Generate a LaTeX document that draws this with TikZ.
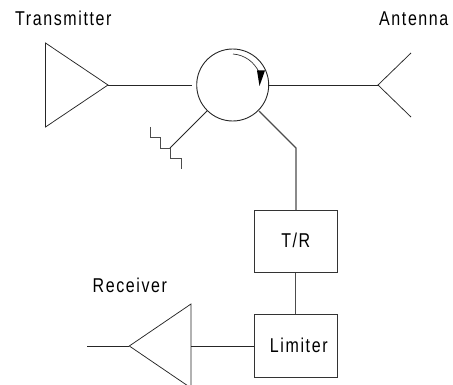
\documentclass[tikz,border=0pt]{standalone}
\usepackage{fontspec}
\setmainfont[FakeStretch=0.8,LetterSpace=8]{Liberation Sans}
\tikzset{
  wire/.style={draw=black!85,line width=0.75pt,line join=miter},
  heavy/.style={draw=black!70,line width=1.1pt},
  blockbox/.style={draw=black!80,line width=1pt,minimum width=83pt,minimum height=62pt,inner sep=0pt,font=\fontsize{20}{22}\selectfont},
  lbl/.style={inner sep=0pt,font=\fontsize{20}{22}\selectfont,anchor=base west},
  circ/.style={circle,draw=black!85,line width=0.9pt,minimum size=72pt,inner sep=0pt}
}
\begin{document}
\begin{tikzpicture}[x=1pt,y=-1pt]
\useasboundingbox (0,0) rectangle (453,385);
\clip (0,0) rectangle (453,385);
% labels
\node[lbl] (ltx) at (15,26) {Transmitter};
\node[lbl] (lant) at (379,26) {Antenna};
\node[lbl] (lrx) at (92.5,292.5) {Receiver};
% circulator
\node[circ] (circ) at (232.7,85) {};
\coordinate (cin) at (192,85);
\coordinate (cout) at (269,85);
\coordinate (cll) at (207,111);
\coordinate (clr) at (259,111);
% transmitter
\coordinate (txa) at (45.5,43);
\coordinate (txb) at (45.5,127);
\coordinate (txt) at (108,85);
\draw[wire] (txa) -- (txt) -- (txb) -- cycle;
\draw[wire] (txt) -- (cin);
% antenna
\coordinate (ant) at (378,85);
\coordinate (antu) at (411,53);
\coordinate (antd) at (411,117);
\draw[wire] (cout) -- (ant);
\draw[wire] (antu) -- (ant) -- (antd);
% load
\coordinate (load) at (170,148);
\draw[wire] (cll) -- (load);
\draw[heavy,line width=0.9pt] (150,127) |- (160,137) |- (load) |- (181,158) -- (181,169);
% blocks
\node[blockbox] (tr) at (295.8,241.7) {\raisebox{2pt}{T/R}};
\node[blockbox,minimum height=63pt] (lim) at (295.8,346.3) {\hspace{6pt}\raisebox{2pt}{Limiter}};
\coordinate (bend) at (296,148);
\draw[heavy] (clr) -- (bend) -- (tr.north -| bend);
\draw[heavy] (tr) -- (lim);
% receiver
\coordinate (rxa) at (191,304);
\coordinate (rxb) at (191,388);
\coordinate (rxt) at (129.3,346);
\coordinate (rxl) at (87,346);
\draw[wire] (rxa) -- (rxt) -- (rxb) -- cycle;
\draw[wire] (rxl) -- (rxt);
\draw[wire] (rxa |- lim.west) -- (lim.west);
% arrow
\draw[line width=0.7pt,draw=black!80] (233,54) .. controls (245,55) and (254,62) .. (259,72);
\fill[black] (257,70.5) -- (265,70.5) -- (259.5,86) -- cycle;
\end{tikzpicture}
\end{document}
